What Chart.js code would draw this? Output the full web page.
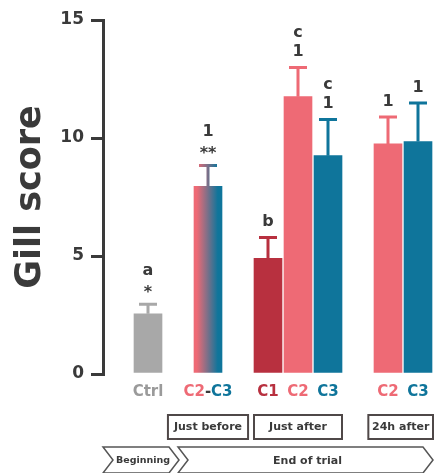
<!DOCTYPE html>
<html>
<head>
<meta charset="utf-8">
<script src="https://cdn.jsdelivr.net/npm/chart.js@4"></script>
<style>
  html, body { margin: 0; padding: 0; background: #fff; }
  #wrap { width: 434px; height: 473px; position: relative; }
</style>
</head>
<body>
<div id="wrap"><canvas id="gillChart"></canvas></div>
<script>
// blank entries are spacer slots between the groups
const categories = ['', 'Ctrl', '', 'C2-C3', '', 'C1', 'C2', 'C3', '', 'C2', 'C3'];
const gillScore  = [null, 2.55, null, 7.95, null, 4.9, 11.75, 9.25, null, 9.75, 9.85];
const gillSem    = [null, 0.47, null, 0.95, null, 0.95, 1.3, 1.6, null, 1.2, 1.7];
// significance marks above each bar, top line first
const sigMarks = [[], ['a', '*'], [], ['1', '**'], [], ['b'], ['c', '1'], ['c', '1'], [], ['1'], ['1']];
const yTicks = [0, 5, 10, 15];

const timepoints = [
  { text: 'Just before', from: 3, to: 3 },
  { text: 'Just after', from: 5, to: 7 },
  { text: '24h after', from: 9, to: 10 }
];
const phases = ['Beginning', 'End of trial'];

const GRAY = '#a8a8a8';
const PINK = '#ee6a75';
const BLUE = '#0f759b';
const DARKRED = '#b8303f';
const INK = '#3a3a3a';
const FONT = '"DejaVu Sans", sans-serif';

const colorOf = { 'Ctrl': GRAY, 'C1': DARKRED, 'C2': PINK, 'C3': BLUE, '-': INK };
const labelColorOf = { 'Ctrl': '#9a9a9a', 'C1': DARKRED, 'C2': PINK, 'C3': BLUE, '-': INK };

function mixGradient(ctx, xc) {
  const g = ctx.createLinearGradient(xc - 14, 0, xc + 14, 0);
  g.addColorStop(0.1, PINK);
  g.addColorStop(0.85, BLUE);
  return g;
}

function barColor(context) {
  const label = categories[context.dataIndex];
  if (label === 'C2-C3') {
    const chart = context.chart;
    if (!chart.chartArea || !chart.scales.x) return PINK;
    return mixGradient(chart.ctx, chart.scales.x.getPixelForValue(context.dataIndex));
  }
  return colorOf[label] || GRAY;
}

const extras = {
  id: 'extras',
  afterDatasetsDraw(chart) {
    const { ctx, scales: { x, y }, chartArea } = chart;
    ctx.save();

    // error bars (upper half only) + significance marks
    gillScore.forEach((v, i) => {
      if (v === null) return;
      const xc = x.getPixelForValue(i);
      const yTop = y.getPixelForValue(v);
      const yErr = y.getPixelForValue(v + gillSem[i]);
      const label = categories[i];
      ctx.strokeStyle = label === 'C2-C3' ? mixGradient(ctx, xc) : colorOf[label];
      ctx.lineWidth = 3;
      ctx.lineCap = 'butt';
      ctx.beginPath();
      ctx.moveTo(xc, yTop);
      ctx.lineTo(xc, yErr);
      ctx.moveTo(xc - 9, yErr + 1.5);
      ctx.lineTo(xc + 9, yErr + 1.5);
      ctx.stroke();

      ctx.fillStyle = INK;
      ctx.font = 'bold 16px ' + FONT;
      ctx.textAlign = 'center';
      ctx.textBaseline = 'middle';
      const marks = sigMarks[i].slice().reverse();
      let yy = yErr - 14;
      marks.forEach((m, j) => {
        const star = m.indexOf('*') >= 0;
        if (j > 0) yy -= 19;
        ctx.fillText(m, xc, star ? yy + 4 : yy);
        if (star) yy += 1;
      });
    });

    // category labels (C2-C3 is split into coloured parts)
    ctx.font = 'bold 15px ' + FONT;
    ctx.textBaseline = 'middle';
    categories.forEach((c, i) => {
      if (!c) return;
      const xc = x.getPixelForValue(i);
      const parts = c.split(/(-)/);
      const total = ctx.measureText(c).width;
      let cx = xc - total / 2;
      ctx.textAlign = 'left';
      parts.forEach(p => {
        ctx.fillStyle = labelColorOf[p] || INK;
        ctx.fillText(p, cx, 392);
        cx += ctx.measureText(p).width;
      });
    });

    // time point boxes
    ctx.font = 'bold 11px ' + FONT;
    ctx.textAlign = 'center';
    ctx.lineWidth = 2;
    ctx.strokeStyle = '#4f4848';
    timepoints.forEach(tp => {
      const x0 = x.getPixelForValue(tp.from) - 14;
      const x1 = x.getPixelForValue(tp.to) + 14;
      const mid = (x0 + x1) / 2;
      const w = Math.max(x1 - x0, ctx.measureText(tp.text).width + 12);
      let left = mid - w / 2;
      let right = Math.min(mid + w / 2, chart.width - 1);
      ctx.strokeRect(left, 415, right - left, 24);
      ctx.fillStyle = INK;
      ctx.fillText(tp.text, (left + right) / 2, 427.5);
    });

    // phase chevrons
    const top = 447, bot = 473, midY = (top + bot) / 2, notch = 10;
    const split = x.getPixelForValue(2);
    const chevrons = [
      { text: phases[0], x0: chartArea.left, x1: split + 1, size: 9.5 },
      { text: phases[1], x0: split, x1: chartArea.right, size: 11 }
    ];
    ctx.lineWidth = 1.5;
    ctx.strokeStyle = '#555';
    chevrons.forEach(c => {
      ctx.beginPath();
      ctx.moveTo(c.x0, top);
      ctx.lineTo(c.x1 - notch, top);
      ctx.lineTo(c.x1, midY);
      ctx.lineTo(c.x1 - notch, bot);
      ctx.lineTo(c.x0, bot);
      ctx.lineTo(c.x0 + notch, midY);
      ctx.closePath();
      ctx.fillStyle = '#fff';
      ctx.fill();
      ctx.stroke();
      ctx.fillStyle = INK;
      ctx.font = 'bold ' + c.size + 'px ' + FONT;
      ctx.fillText(c.text, (c.x0 + notch + c.x1 - notch) / 2 + 2, midY + 1);
    });

    ctx.restore();
  }
};

const chart = new Chart(document.getElementById('gillChart'), {
  type: 'bar',
  data: {
    labels: categories,
    datasets: [{
      label: 'Gill score',
      data: gillScore,
      backgroundColor: barColor,
      borderWidth: 0,
      barThickness: 28
    }]
  },
  options: {
    responsive: true,
    maintainAspectRatio: false,
    animation: false,
    layout: { padding: { top: 20, right: 1, left: 0, bottom: 0 } },
    plugins: {
      legend: { display: false },
      tooltip: { enabled: false }
    },
    scales: {
      x: {
        ticks: { display: false },
        grid: { display: false },
        border: { display: false },
        afterFit: (s) => { s.height = 99; }
      },
      y: {
        min: 0,
        max: 15,
        afterBuildTicks: (s) => { s.ticks = yTicks.map(v => ({ value: v })); },
        afterFit: (s) => { s.width = 103; },
        ticks: {
          color: INK,
          padding: 7,
          font: { family: FONT, size: 17, weight: 'bold' }
        },
        grid: {
          drawOnChartArea: false,
          drawTicks: true,
          tickLength: 12,
          lineWidth: 3,
          color: INK
        },
        border: { display: true, width: 3, color: INK },
        title: {
          display: true,
          text: 'Gill score',
          color: INK,
          padding: { top: 10, bottom: 0 },
          font: { family: FONT, size: 35, weight: 'bold' }
        }
      }
    }
  },
  plugins: [extras]
});
</script>
</body>
</html>
